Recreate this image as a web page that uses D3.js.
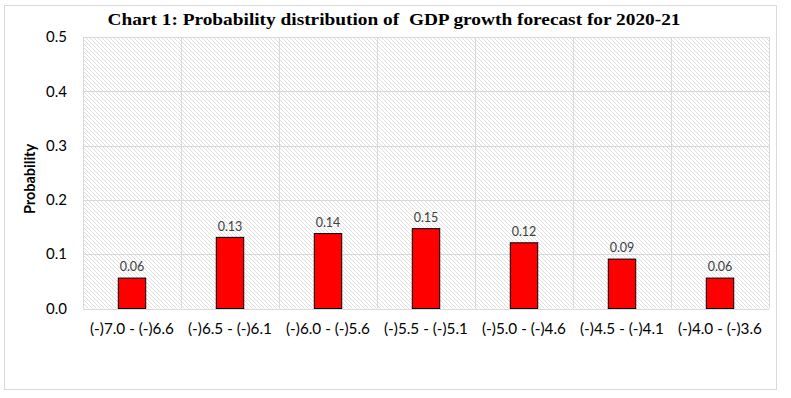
<!DOCTYPE html>
<html><head><meta charset="utf-8">
<script src="https://cdn.jsdelivr.net/npm/d3@7"></script>
<style>html,body{margin:0;padding:0;background:#fff;}</style>
</head><body>
<svg id="chart" width="791" height="398"></svg>
<script>
const title = "Chart 1: Probability distribution of  GDP growth forecast for 2020-21";
const categories = ["(-)7.0 - (-)6.6","(-)6.5 - (-)6.1","(-)6.0 - (-)5.6","(-)5.5 - (-)5.1","(-)5.0 - (-)4.6","(-)4.5 - (-)4.1","(-)4.0 - (-)3.6"];
const probabilities = [0.056, 0.131, 0.138, 0.147, 0.121, 0.091, 0.056];
const yTicks = [0, 0.1, 0.2, 0.3, 0.4, 0.5];
const yLabel = "Probability";

const svg = d3.select("#chart");
const W = 791, H = 398;
const m = {left: 83, right: 22, top: 37, bottom: 90};
const x = d3.scaleBand().domain(categories).range([m.left, W - m.right]).paddingInner(0).paddingOuter(0);
const y = d3.scaleLinear().domain([0, 0.5]).range([H - m.bottom + 0.5, m.top]);

// outer border
svg.append("rect").attr("x", 4.5).attr("y", 5.5).attr("width", 772).attr("height", 384)
  .attr("fill", "#fff").attr("stroke", "#d9d9d9").attr("stroke-width", 1);

// hatch pattern
const defs = svg.append("defs");
const pat = defs.append("pattern").attr("id", "hatch").attr("patternUnits", "userSpaceOnUse")
  .attr("width", 4).attr("height", 4);
pat.append("rect").attr("width", 4).attr("height", 4).attr("fill", "#ffffff");
pat.append("path").attr("d", "M-1,-1 L5,5 M-1,3 L1,5 M3,-1 L5,1")
  .attr("stroke", "#dcdcdc").attr("stroke-width", 0.9);

const plotW = W - m.right - m.left;
svg.append("rect").attr("x", m.left).attr("y", m.top).attr("width", plotW)
  .attr("height", y(0) - m.top).attr("fill", "url(#hatch)");

// gridlines
svg.append("g").selectAll("line").data(yTicks).join("line")
  .attr("x1", m.left).attr("x2", W - m.right)
  .attr("y1", d => Math.round(y(d)) + 0.5).attr("y2", d => Math.round(y(d)) + 0.5)
  .attr("stroke", "#d9d9d9").attr("stroke-width", 1);
const bounds = categories.map(c => x(c)).concat([x.range()[1]]);
svg.append("g").selectAll("line").data(bounds).join("line")
  .attr("x1", d => Math.round(d) + 0.5).attr("x2", d => Math.round(d) + 0.5)
  .attr("y1", m.top).attr("y2", y(0))
  .attr("stroke", "#d9d9d9").attr("stroke-width", 1);

// bars
const bw = x.bandwidth() * 0.28;
svg.append("g").selectAll("rect").data(probabilities).join("rect")
  .attr("x", (d, i) => x(categories[i]) + (x.bandwidth() - bw) / 2)
  .attr("y", d => y(d))
  .attr("width", bw)
  .attr("height", d => y(0) - y(d))
  .attr("fill", "#ff0000").attr("stroke", "#000").attr("stroke-width", 1);

// bar labels
svg.append("g").selectAll("text").data(probabilities).join("text")
  .attr("x", (d, i) => x(categories[i]) + x.bandwidth() / 2)
  .attr("y", d => y(d) - 11).attr("dy", "0.35em")
  .attr("text-anchor", "middle")
  .attr("font-family", "Lato, sans-serif").attr("font-size", 12.5)
  .attr("fill", "#404040")
  .text(d => d3.format(".2f")(d));

// y axis tick labels
svg.append("g").selectAll("text").data(yTicks).join("text")
  .attr("x", 67).attr("y", d => y(d)).attr("dy", "0.35em")
  .attr("text-anchor", "end")
  .attr("font-family", "Lato, sans-serif").attr("font-size", 15)
  .attr("fill", "#000")
  .text(d => d3.format(".1f")(d));

// x axis labels
svg.append("g").selectAll("text").data(categories).join("text")
  .attr("x", d => x(d) + x.bandwidth() / 2).attr("y", 329).attr("dy", "0.35em")
  .attr("text-anchor", "middle")
  .attr("font-family", "Lato, sans-serif").attr("font-size", 15.3)
  .attr("fill", "#000")
  .text(d => d);

// y label
svg.append("text").attr("transform", "translate(30,179) rotate(-90)")
  .attr("text-anchor", "middle").attr("dy", "0.35em")
  .attr("font-family", "Lato, sans-serif").attr("font-weight", "bold").attr("font-size", 14.5)
  .attr("fill", "#000").text(yLabel);

// title
svg.append("text").attr("x", 394).attr("y", 19).attr("dy", "0.35em")
  .attr("text-anchor", "middle").style("white-space", "pre")
  .attr("font-family", "'Liberation Serif', serif").attr("font-weight", "bold").attr("font-size", 16.5)
  .attr("fill", "#000").attr("textLength", 573).attr("lengthAdjust", "spacingAndGlyphs")
  .text(title);
</script>
</body></html>
